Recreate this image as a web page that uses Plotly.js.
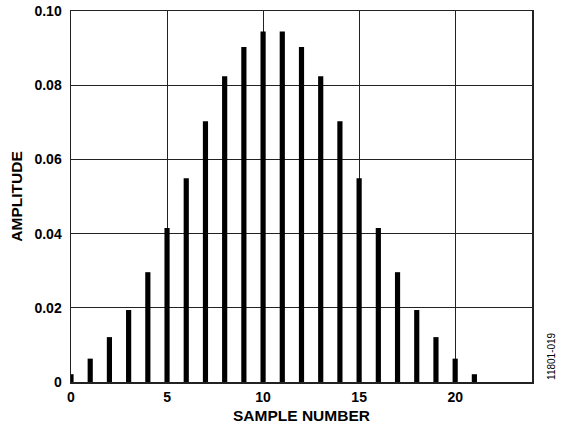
<!DOCTYPE html>
<html>
<head>
<meta charset="utf-8">
<script src="https://cdn.plot.ly/plotly-3.0.1.min.js"></script>
<style>
  body { margin: 0; background: #fff; }
  #chart { width: 562px; height: 430px; }
</style>
</head>
<body>
<div id="chart"></div>
<script>
// sample index and window amplitude
const sampleNumber = [0, 1, 2, 3, 4, 5, 6, 7, 8, 9, 10,
                      11, 12, 13, 14, 15, 16, 17, 18, 19, 20, 21];
const amplitude = [0.0021, 0.0063, 0.0121, 0.0194, 0.0296, 0.0415, 0.0549, 0.0703, 0.0824, 0.0903, 0.0945,
                   0.0945, 0.0903, 0.0824, 0.0703, 0.0549, 0.0415, 0.0296, 0.0194, 0.0121, 0.0063, 0.0021];
const xTicks = [0, 5, 10, 15, 20];
const yTicks = [0, 0.02, 0.04, 0.06, 0.08, 0.10];
const yTickText = ['0', '0.02', '0.04', '0.06', '0.08', '0.10'];

const boldFont = { family: 'Liberation Sans, Arial, sans-serif', size: 14, color: '#000', weight: 'bold' };

const trace = {
    x: sampleNumber,
    y: amplitude,
    type: 'bar',
    width: 0.27,
    marker: { color: '#000', line: { width: 0 } },
    hoverinfo: 'x+y'
};

const layout = {
    width: 562,
    height: 430,
    margin: { l: 71, r: 30, t: 11, b: 48 },
    paper_bgcolor: '#fff',
    plot_bgcolor: '#fff',
    showlegend: false,
    xaxis: {
        range: [0, 24],
        tickvals: xTicks,
        ticks: '',
        tickfont: boldFont,
        ticklabelstandoff: 2,
        showgrid: true,
        gridcolor: '#222',
        gridwidth: 1,
        zeroline: false,
        showline: true,
        linecolor: '#222',
        linewidth: 1.5,
        mirror: true,
        title: { text: 'SAMPLE NUMBER', font: { ...boldFont, size: 15.5 }, standoff: 6 }
    },
    yaxis: {
        range: [0, 0.10],
        tickvals: yTicks,
        ticktext: yTickText,
        ticks: '',
        tickfont: boldFont,
        ticklabelstandoff: 5,
        showgrid: true,
        gridcolor: '#222',
        gridwidth: 1,
        zeroline: false,
        showline: true,
        linecolor: '#222',
        linewidth: 1.5,
        mirror: true,
        title: { text: 'AMPLITUDE', font: { ...boldFont, size: 15.5 }, standoff: 8 }
    },
    annotations: [{
        text: '11801-019',
        xref: 'paper', yref: 'paper',
        x: 1, y: 0.069,
        xanchor: 'left', yanchor: 'middle',
        xshift: 12,
        textangle: -90,
        showarrow: false,
        font: { family: 'Liberation Sans, Arial, sans-serif', size: 10, color: '#000' }
    }]
};

Plotly.newPlot('chart', [trace], layout, { displayModeBar: false, staticPlot: true });
</script>
</body>
</html>
